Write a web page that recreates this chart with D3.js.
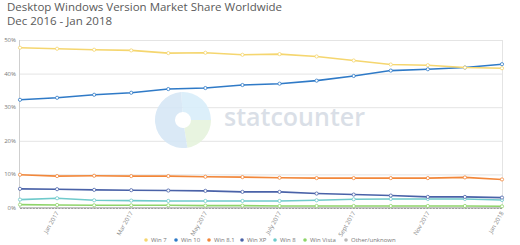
<!DOCTYPE html>
<html>
<head>
<meta charset="utf-8">
<script src="https://cdn.jsdelivr.net/npm/d3@7"></script>
<style>
  body { margin: 0; background: #fff; }
  svg { display: block; font-family: 'Open Sans', sans-serif; }
</style>
</head>
<body>
<svg id="chart" width="520" height="245"></svg>
<script>
'use strict';

const months = ['Dec 2016', 'Jan 2017', 'Feb 2017', 'Mar 2017', 'Apr 2017', 'May 2017', 'June 2017',
  'July 2017', 'Aug 2017', 'Sept 2017', 'Oct 2017', 'Nov 2017', 'Dec 2017', 'Jan 2018'];
const tickLabels = ['Jan 2017', 'Mar 2017', 'May 2017', 'July 2017', 'Sept 2017', 'Nov 2017', 'Jan 2018'];
const yTicks = [0, 10, 20, 30, 40, 50];

const win7 = [47.7, 47.4, 47.1, 46.9, 46.1, 46.2, 45.6, 45.8, 45.1, 43.9, 42.7, 42.5, 41.8, 41.6];
const win10 = [32.2, 32.8, 33.7, 34.3, 35.4, 35.7, 36.6, 37.0, 37.9, 39.3, 40.9, 41.3, 41.8, 42.8];
const win81 = [9.9, 9.5, 9.6, 9.5, 9.5, 9.3, 9.2, 9.0, 8.9, 8.9, 8.9, 8.9, 9.1, 8.5];
const winXP = [5.7, 5.6, 5.4, 5.3, 5.2, 5.1, 4.8, 4.8, 4.3, 4.0, 3.7, 3.3, 3.3, 3.1];
const win8 = [2.5, 2.9, 2.3, 2.2, 2.1, 2.1, 2.1, 2.1, 2.3, 2.6, 2.7, 2.7, 2.7, 2.4];
const winVista = [1.0, 0.9, 0.8, 0.8, 0.8, 0.7, 0.7, 0.6, 0.6, 0.6, 0.6, 0.6, 0.6, 0.5];
const other = [0.1, 0.1, 0.1, 0.1, 0.1, 0.1, 0.1, 0.1, 0.1, 0.1, 0.1, 0.1, 0.1, 0.1];

const seriesNames = ['Win 7', 'Win 10', 'Win 8.1', 'Win XP', 'Win 8', 'Win Vista', 'Other/unknown'];
const seriesValues = [win7, win10, win81, winXP, win8, winVista, other];
const seriesColors = ['#f5d66f', '#2f7ac7', '#f2873a', '#4a62a8', '#6fcacb', '#8fd46a', '#b8b8b8'];

const margin = { top: 40, right: 18, bottom: 37, left: 20 };
const width = 520;
const height = 245;

const svg = d3.select('#chart');

const x = d3.scalePoint()
  .domain(months)
  .range([margin.left, width - margin.right]);

const y = d3.scaleLinear()
  .domain([0, 50])
  .range([height - margin.bottom, margin.top]);

// title
const title = svg.append('g').attr('fill', '#5a5a5a').style('font-size', '11.5px');
title.append('text').attr('x', 7).attr('y', 11).text('Desktop Windows Version Market Share Worldwide');
title.append('text').attr('x', 7).attr('y', 25).text('Dec 2016 - Jan 2018');

// grid
svg.append('g')
  .selectAll('line')
  .data(yTicks)
  .join('line')
  .attr('x1', margin.left)
  .attr('x2', width - margin.right)
  .attr('y1', (d) => y(d) + 0.5)
  .attr('y2', (d) => y(d) + 0.5)
  .attr('stroke', '#e4e4e4');

svg.append('line')
  .attr('x1', width - margin.right + 0.5)
  .attr('x2', width - margin.right + 0.5)
  .attr('y1', margin.top)
  .attr('y2', y(0))
  .attr('stroke', '#e4e4e4');

svg.append('line')
  .attr('x1', margin.left - 0.5)
  .attr('x2', margin.left - 0.5)
  .attr('y1', margin.top)
  .attr('y2', y(0))
  .attr('stroke', '#cfcfcf');

// watermark
const wm = svg.append('g').attr('transform', 'translate(183,120)').attr('opacity', 0.9);
const arc = d3.arc().innerRadius(8).outerRadius(28);
const wmSlices = [
  { start: -Math.PI * 0.02, end: Math.PI * 0.5, color: '#d9eefa' },
  { start: Math.PI * 0.5, end: Math.PI * 0.95, color: '#e6f3dd' },
  { start: Math.PI * 0.95, end: Math.PI * 1.98, color: '#d6e7f6' },
];
wm.selectAll('path')
  .data(wmSlices)
  .join('path')
  .attr('d', (d) => arc({ startAngle: d.start, endAngle: d.end }))
  .attr('fill', (d) => d.color);
svg.append('text')
  .attr('x', 224)
  .attr('y', 126)
  .attr('fill', '#dadfe7')
  .style('font-size', '25px')
  .style('font-weight', '600')
  .text('statcounter');

// y axis labels
svg.append('g')
  .selectAll('text')
  .data(yTicks)
  .join('text')
  .attr('x', margin.left - 4)
  .attr('y', (d) => y(d) + 2)
  .attr('text-anchor', 'end')
  .attr('fill', '#777')
  .style('font-size', '6px')
  .text((d) => `${d}%`);

// x axis (dotted line with minor ticks)
svg.append('line')
  .attr('x1', margin.left)
  .attr('x2', width - margin.right)
  .attr('y1', y(0) + 0.5)
  .attr('y2', y(0) + 0.5)
  .attr('stroke', '#999')
  .attr('stroke-dasharray', '2,1.2');

svg.append('g')
  .selectAll('text')
  .data(tickLabels)
  .join('text')
  .attr('transform', (d) => `translate(${x(d) + 2},${y(0) + 5}) rotate(-60)`)
  .attr('text-anchor', 'end')
  .attr('fill', '#888')
  .style('font-size', '6px')
  .text((d) => d);

// series lines
const line = d3.line()
  .x((d, i) => x(months[i]))
  .y((d) => y(d));

const seriesGroup = svg.append('g');
seriesValues.slice().reverse().forEach((values, ri) => {
  const idx = seriesValues.length - 1 - ri;
  const g = seriesGroup.append('g');
  g.append('path')
    .datum(values)
    .attr('d', line)
    .attr('fill', 'none')
    .attr('stroke', seriesColors[idx])
    .attr('stroke-width', idx === 6 ? 1 : 1.6);
  if (idx === 6) return;
  g.selectAll('circle')
    .data(values)
    .join('circle')
    .attr('cx', (d, i) => x(months[i]))
    .attr('cy', (d) => y(d))
    .attr('r', 1.6)
    .attr('fill', '#fff')
    .attr('stroke', seriesColors[idx])
    .attr('stroke-width', 0.8);
});

// legend
const legendX = [146, 176, 209, 242, 275, 305, 346];
const legend = svg.append('g')
  .selectAll('g')
  .data(seriesNames)
  .join('g')
  .attr('transform', (d, i) => `translate(${legendX[i]},242)`);
legend.append('circle')
  .attr('r', 1.8)
  .attr('cy', -2)
  .attr('fill', (d, i) => seriesColors[i]);
legend.append('text')
  .attr('x', 5)
  .attr('fill', '#777')
  .style('font-size', '6px')
  .text((d) => d);
</script>
</body>
</html>
